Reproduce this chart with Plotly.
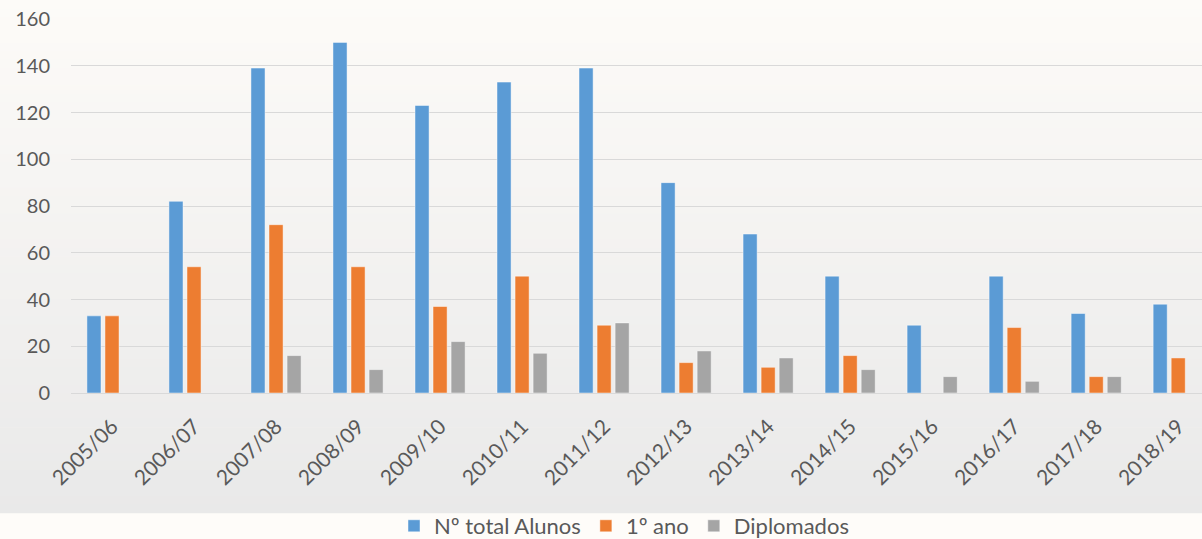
import plotly.graph_objects as go

categories = ["2005/06", "2006/07", "2007/08", "2008/09", "2009/10", "2010/11", "2011/12",
              "2012/13", "2013/14", "2014/15", "2015/16", "2016/17", "2017/18", "2018/19"]
total_alunos = [33, 82, 139, 150, 123, 133, 139, 90, 68, 50, 29, 50, 34, 38]
primeiro_ano = [33, 54, 72, 54, 37, 50, 29, 13, 11, 16, None, 28, 7, 15]
diplomados = [None, None, 16, 10, 22, 17, 30, 18, 15, 10, 7, 5, 7, None]

series = [
    ("Nº total Alunos", total_alunos, "#5b9bd5"),
    ("1º ano", primeiro_ano, "#ed7d31"),
    ("Diplomados", diplomados, "#a5a5a5"),
]

fig = go.Figure()
for name, vals, col in series:
    fig.add_trace(go.Bar(x=categories, y=vals, name=name, marker_color=col,
                         marker_line=dict(color="rgba(255,255,255,0.45)", width=1)))

# background gradient (paper coordinates)
W, H = 1202, 539
ml, mt, mb = 71, 19, 146
pw = W - ml
ph = H - mt - mb
def py(pix):
    return (H - mb - pix) / ph
def px(pix):
    return (pix - ml) / pw
top_c = (253, 251, 248)
bot_c = (233, 233, 233)
top_pix, bot_pix = 0, 513
n = 60
shapes = []
for i in range(n):
    p0 = top_pix + (bot_pix - top_pix) * i / n
    p1 = top_pix + (bot_pix - top_pix) * (i + 1) / n
    t = (i + 0.5) / n
    c = tuple(round(top_c[k] + (bot_c[k] - top_c[k]) * t) for k in range(3))
    shapes.append(dict(type="rect", xref="paper", yref="paper", x0=-0.1, x1=1.1,
                       y0=py(p1) - 0.001, y1=py(p0) + 0.001, fillcolor="rgb(%d,%d,%d)" % c,
                       line=dict(width=0), layer="below"))

font_family = "Lato, 'Open Sans', sans-serif"
fig.update_layout(
    width=W, height=H,
    margin=dict(l=ml, r=0, t=mt, b=mb, autoexpand=False),
    paper_bgcolor="#fefcf9",
    plot_bgcolor="rgba(0,0,0,0)",
    barmode="group", bargap=0.34, bargroupgap=0.22,
    font=dict(family=font_family, color="#595959", size=20),
    shapes=shapes,
    showlegend=True,
    legend=dict(orientation="h", x=px(624), xanchor="center", y=py(526), yanchor="middle",
                font=dict(size=22, color="#595959"), bgcolor="rgba(0,0,0,0)",
                itemwidth=30, traceorder="normal"),
    xaxis=dict(type="category", range=[-0.5, 13.29], tickangle=-45, showgrid=False,
               showline=True, linecolor="#d9d9d9", linewidth=1, ticks="", automargin=False,
               tickfont=dict(size=21, color="#595959"), ticklabelstandoff=12),
    yaxis=dict(range=[0, 160], dtick=20, showgrid=True, gridcolor="#d9d9d9", gridwidth=1,
               zeroline=False, showline=False, ticks="", automargin=False,
               tickfont=dict(size=20, color="#595959"), ticklabelstandoff=20),
)

fig.write_html("out.html", config={"displayModeBar": False},
               post_script="document.body.style.margin='0';document.body.style.overflow='hidden';document.documentElement.style.overflow='hidden';")
